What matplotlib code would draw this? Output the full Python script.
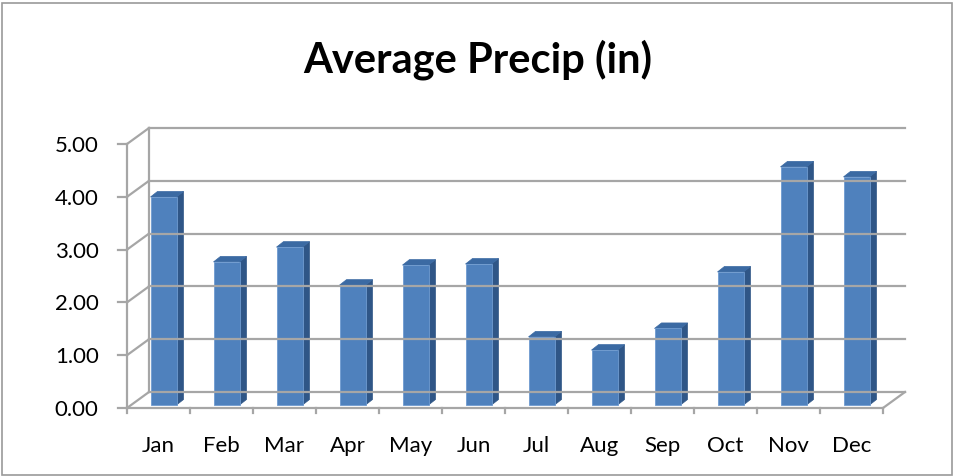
import matplotlib.pyplot as plt
from matplotlib.patches import Polygon, Rectangle

months = ["Jan", "Feb", "Mar", "Apr", "May", "Jun",
          "Jul", "Aug", "Sep", "Oct", "Nov", "Dec"]
precip = [3.94, 2.71, 2.99, 2.27, 2.65, 2.67, 1.29, 1.04, 1.45, 2.52, 4.51, 4.32]
yticks = [0, 1, 2, 3, 4, 5]
title = "Average Precip (in)"

plt.rcParams["font.family"] = ["Lato", "DejaVu Sans"]

W, H = 955, 476
fig = plt.figure(figsize=(W / 100, H / 100), dpi=100)

# outer chart border
fig.patches.append(Rectangle((2 / W, 1 / H), 950 / W, 472 / H, transform=fig.transFigure,
                             fill=False, edgecolor="#9a9a9a", linewidth=1.2))

# axes = front plane of the 3D box
x0, x1, y0, y1 = 127, 883, 408, 144
ax = fig.add_axes([x0 / W, (H - y0) / H, (x1 - x0) / W, (y0 - y1) / H])
n = len(months)
ax.set_xlim(0, n)
ax.set_ylim(0, 5)
ax.axis("off")
px_x = (x1 - x0) / n
px_y = (y0 - y1) / 5

# depth of the box (data units)
ddx = 22 / px_x
ddy = 16 / px_y
grid = "#a6a6a6"
lw = 1.6

# back wall grid + left wall diagonals
for v in yticks:
    ax.plot([ddx, n + ddx], [v + ddy, v + ddy], color=grid, lw=lw, clip_on=False)
    ax.plot([0, ddx], [v, v + ddy], color=grid, lw=lw, clip_on=False)
ax.plot([ddx, ddx], [ddy, 5 + ddy], color=grid, lw=lw, clip_on=False)
# floor
ax.plot([n, n + ddx], [0, ddy], color=grid, lw=lw, clip_on=False)
# front axes
ax.plot([0, 0], [0, 5], color=grid, lw=lw, clip_on=False)
ax.plot([0, n], [0, 0], color=grid, lw=lw, clip_on=False)
for v in yticks:
    ax.plot([-0.14, 0], [v, v], color=grid, lw=lw, clip_on=False)
    ax.text(-0.45, v - 2 / px_y, f"{v:.2f}", ha="right", va="center", fontsize=16, color="#000000")
for i in range(n + 1):
    ax.plot([i, i], [0, -0.1], color=grid, lw=lw, clip_on=False)
for i, m in enumerate(months):
    ax.text(i + 0.5, -44 / px_y, m, ha="center", va="baseline", fontsize=16, color="#000000")

# 3D bars
bw = 26 / px_x
bdx = 7 / px_x
bdy = 5.5 / px_y
base = 3 / px_y
shift = 5 / px_x
for i, v in enumerate(precip):
    left = i + 0.5 - bw / 2 + shift
    right = left + bw
    top = base + v
    side = Polygon([(right, base), (right + bdx, base + bdy), (right + bdx, top + bdy), (right, top)],
                   closed=True, facecolor="#2f5687", edgecolor="#2f5687", lw=0.5, clip_on=False)
    cap = Polygon([(left, top), (left + bdx, top + bdy), (right + bdx, top + bdy), (right, top)],
                  closed=True, facecolor="#3b6aa3", edgecolor="#3b6aa3", lw=0.5, clip_on=False)
    ax.add_patch(side)
    ax.add_patch(cap)
    ax.bar(left, v, width=bw, bottom=base, align="edge", color="#4f81bd",
           edgecolor="#6f9bd0", linewidth=0.6, clip_on=False)

fig.text(478 / W, 1 - 73 / H, title, ha="center", va="baseline",
         fontsize=30, fontweight="bold", color="#000000")

fig.savefig("out.png", dpi=100)
